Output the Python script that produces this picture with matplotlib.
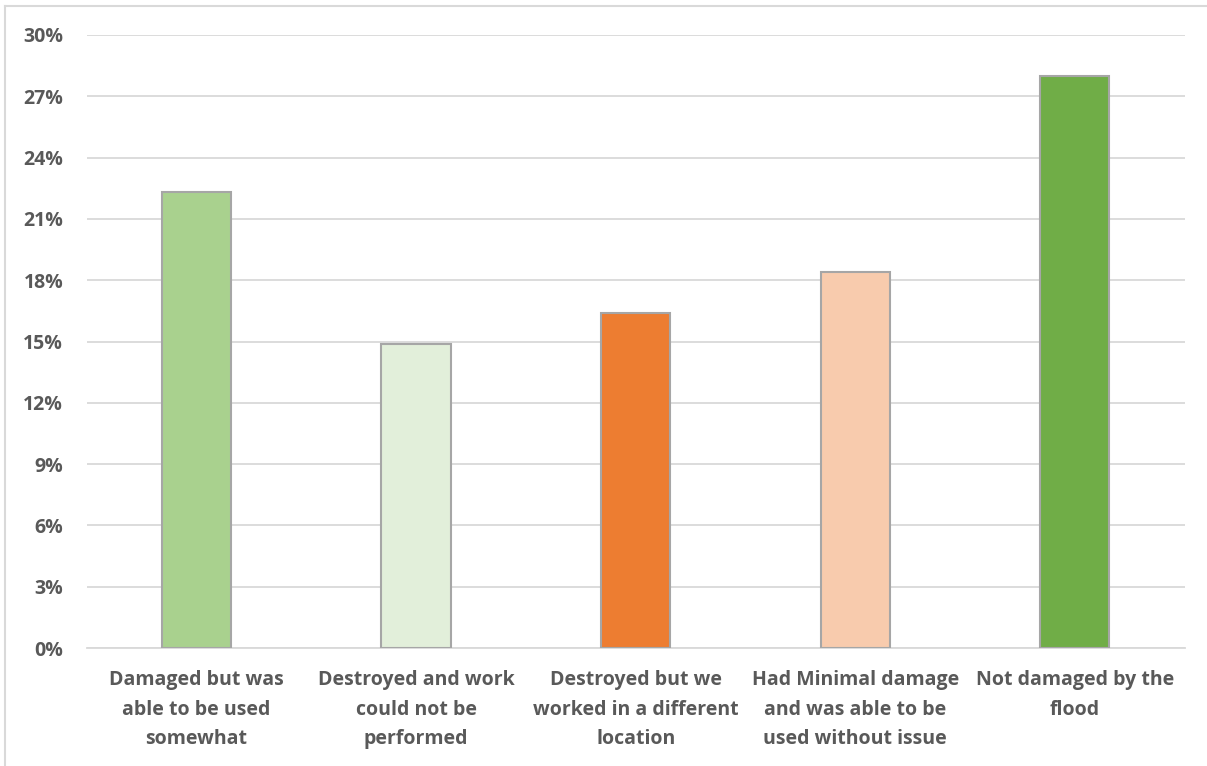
import matplotlib.pyplot as plt
from matplotlib.lines import Line2D
from matplotlib.ticker import FuncFormatter

categories = [
    "Damaged but was\nable to be used\nsomewhat",
    "Destroyed and work\ncould not be\nperformed",
    "Destroyed but we\nworked in a different\nlocation",
    "Had Minimal damage\nand was able to be\nused without issue",
    "Not damaged by the\nflood",
]
shares = [22.3, 14.9, 16.4, 18.4, 28.0]
colors = ["#A9D18E", "#E2EFDA", "#ED7D31", "#F8CBAD", "#70AD47"]
yticks = list(range(0, 31, 3))

plt.rcParams['font.family'] = ['Open Sans', 'DejaVu Sans']

W, H = 1207, 766
fig = plt.figure(figsize=(W / 100, H / 100), dpi=100)
ax = fig.add_axes([86.75 / W, 1 - 648 / H, (1184.5 - 86.75) / W, (648 - 35) / H])

x = range(len(categories))
ax.bar(x, shares, width=0.315, color=colors, edgecolor="#A6A6A6", linewidth=1.5, zorder=3)

ax.set_xlim(-0.5, len(categories) - 0.5)
ax.set_ylim(0, 30)
ax.set_yticks(yticks)
ax.yaxis.set_major_formatter(FuncFormatter(lambda v, _: f"{v:.0f}%"))
ax.grid(axis="y", color="#D9D9D9", linewidth=1.3, zorder=0)

ax.set_xticks(list(x))
ax.set_xticklabels(categories, linespacing=1.62)
for lab in ax.get_xticklabels() + ax.get_yticklabels():
    lab.set_fontweight("bold")
    lab.set_fontsize(14)
    lab.set_color("#595959")
ax.tick_params(axis="both", length=0)
ax.tick_params(axis="x", pad=16)
ax.tick_params(axis="y", pad=17)

for side in ["top", "right", "left"]:
    ax.spines[side].set_visible(False)
ax.spines["bottom"].set_color("#D9D9D9")
ax.spines["bottom"].set_linewidth(1.3)

# light frame around the chart area
fig.add_artist(Line2D([5 / W, 5 / W], [0, 1 - 6 / H], transform=fig.transFigure, color="#D9D9D9", linewidth=1.5))
fig.add_artist(Line2D([5 / W, 1], [1 - 6 / H, 1 - 6 / H], transform=fig.transFigure, color="#D9D9D9", linewidth=1.5))

fig.savefig("out.png", dpi=100)
